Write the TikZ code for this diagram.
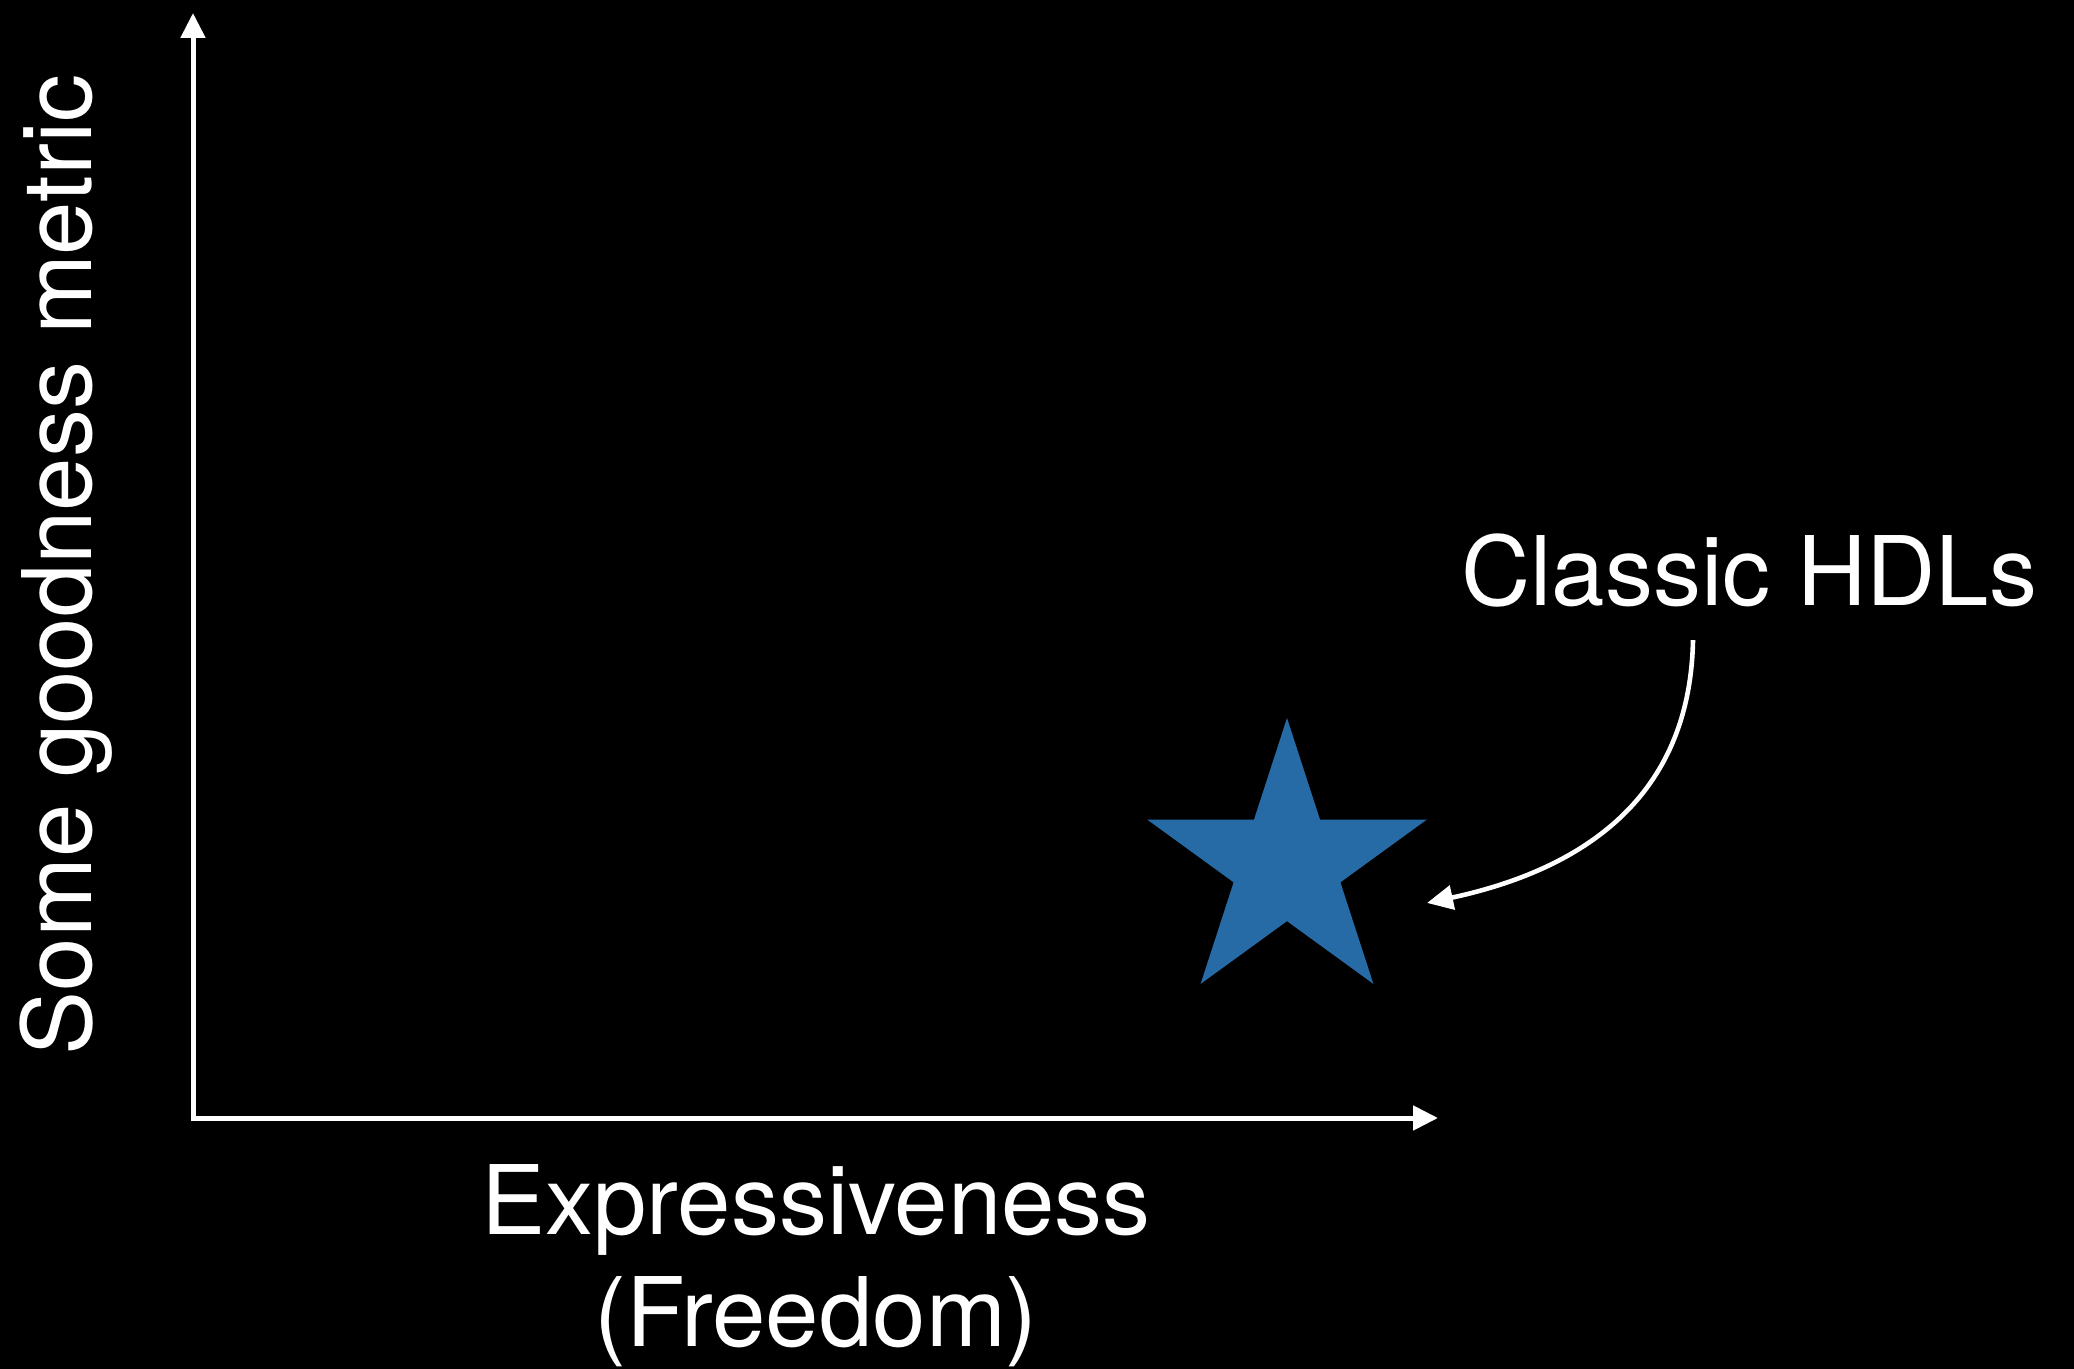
\documentclass[tikz,border=0pt]{standalone}
\usepackage{fontspec}
\setmainfont{TeX Gyre Heros}
\usepackage{xcolor}
\usetikzlibrary{arrows.meta,shapes.geometric}
\definecolor{starblue}{RGB}{38,106,166}

\begin{document}
\begin{tikzpicture}[x=0.5pt, y=-0.5pt,
    axis/.style={{Triangle[length=12.5pt,width=12pt]}-{Triangle[length=12.5pt,width=12pt]},
        line width=2.5pt, draw=white, line join=miter},
    pointer/.style={-{Triangle[length=13pt,width=12pt]}, line width=2.3pt, draw=white},
    axistext/.style={text=white, font=\fontsize{48}{56}\selectfont, inner sep=0pt, align=center},
    marker/.style={star, star points=5, star point ratio=2.618, minimum size=147pt,
        fill=starblue, inner sep=0pt}]
\fill[black] (0,0) rectangle (2074,1369);
\useasboundingbox (0,0) rectangle (2074,1369);

\coordinate (origin) at (193,1118);
\coordinate (ytip)   at (193,13);
\coordinate (xtip)   at (1438,1118);
\coordinate (aim)    at (1427,903);

\node[marker] (hdlstar) at (1287,865) {};
\node[axistext, anchor=base] (hdl) at (1749,606) {Classic HDLs};
\node[axistext, anchor=base, rotate=90] (metric) at (91,565) {Some goodness metric};
\node[axistext, anchor=base] (expr) at (816,1346) {Expressiveness\\(Freedom)};

\draw[axis] (ytip) -- (origin) -- (xtip);
\draw[pointer] ([xshift=-28pt, yshift=-16pt]hdl.south) .. controls (1690,800) and (1580,870) .. (aim);
\end{tikzpicture}
\end{document}
